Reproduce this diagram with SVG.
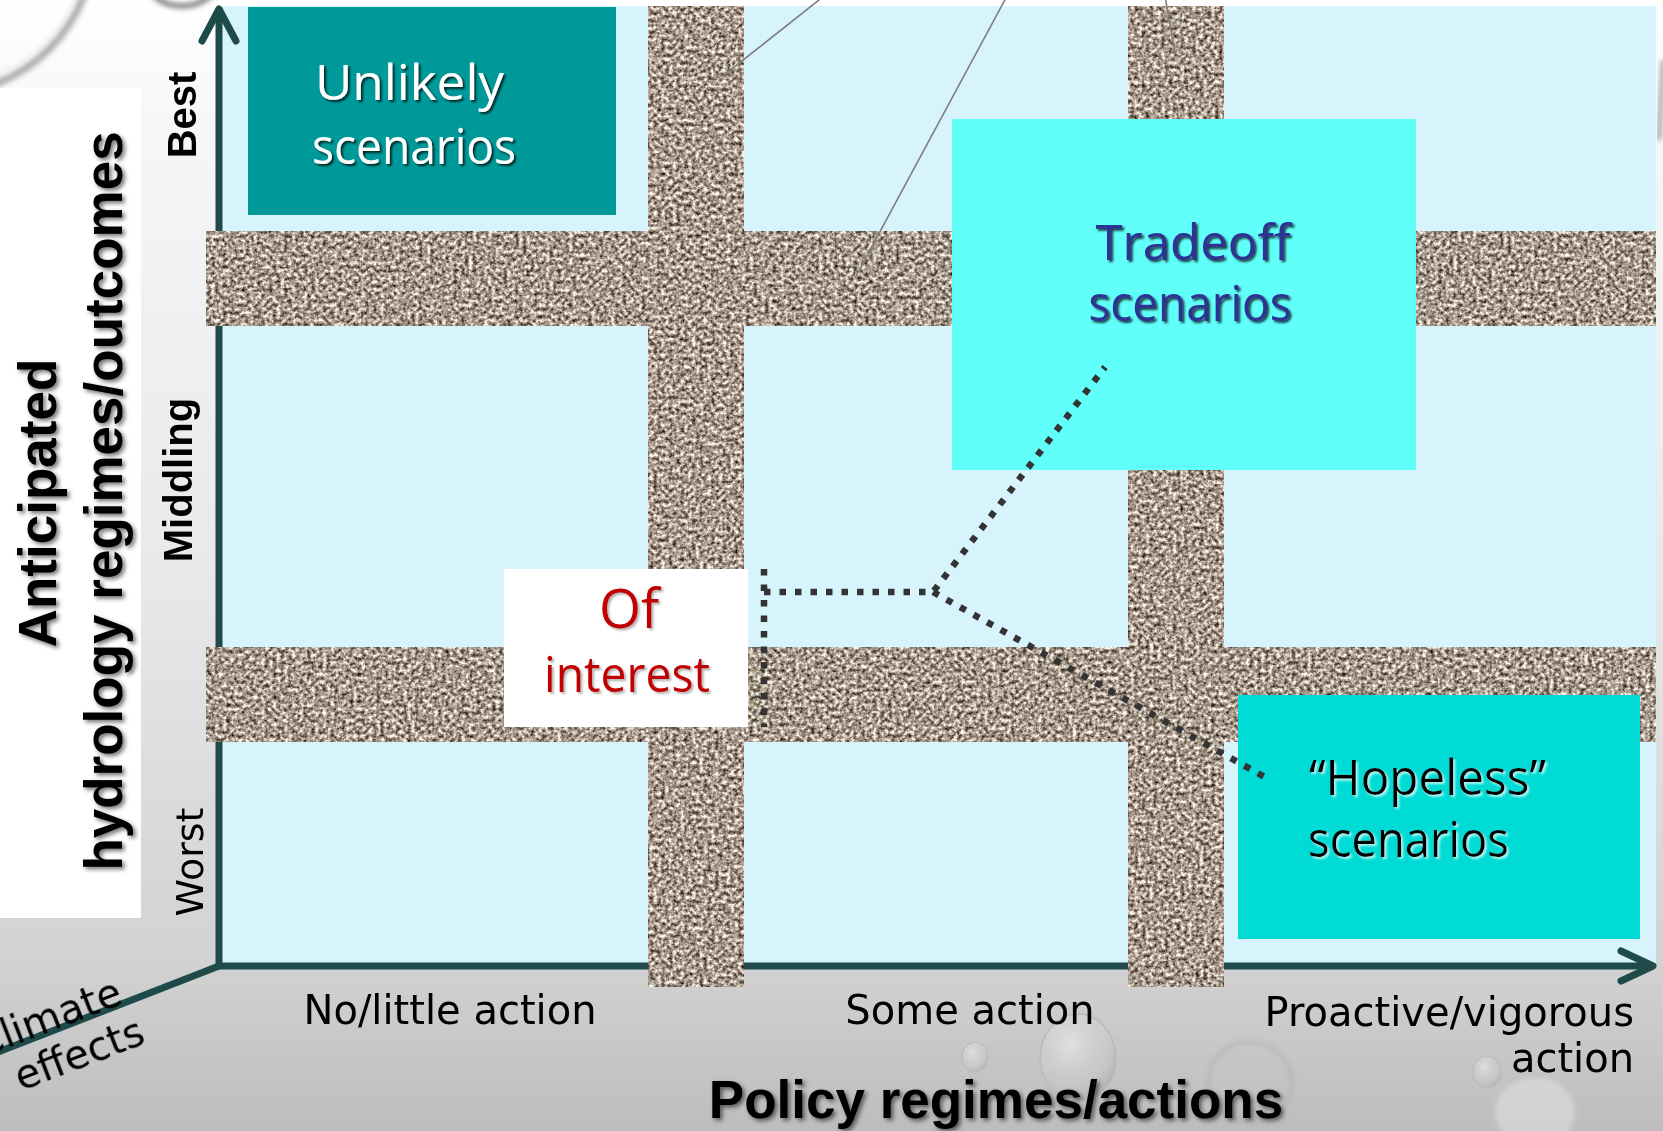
<svg xmlns="http://www.w3.org/2000/svg" width="1663" height="1131" viewBox="0 0 1663 1131">
  <defs>
    <style>
      .title { font-family: "Liberation Sans", Arial, sans-serif; font-weight: 700; font-size: 53px; fill: #000; text-anchor: middle; }
      .lvlB { font-family: "Liberation Sans", Arial, sans-serif; font-weight: 700; font-size: 40px; fill: #000; text-anchor: middle; }
      .lvl { font-family: "DejaVu Sans", sans-serif; font-size: 38px; fill: #000; text-anchor: middle; }
      .cat { font-family: "DejaVu Sans", sans-serif; font-size: 40px; fill: #000; }
      .mid { text-anchor: middle; }
      .end { text-anchor: end; }
      .hand { font-family: "Open Sans", "Noto Sans", sans-serif; font-size: 50px; }
      .dots { fill: none; stroke: #333; stroke-width: 6.5; stroke-dasharray: 6.5 9; }
      .thin { fill: none; stroke: #7f7f7f; stroke-width: 1.6; }
      .axis { fill: none; stroke: #1f4a4a; stroke-width: 7; stroke-linecap: round; stroke-linejoin: round; }
    </style>
    <linearGradient id="bg" x1="0" y1="0" x2="0" y2="1">
      <stop offset="0" stop-color="#ffffff"/>
      <stop offset="0.12" stop-color="#f6f6f6"/>
      <stop offset="0.5" stop-color="#e9e9e9"/>
      <stop offset="0.85" stop-color="#d2d2d2"/>
      <stop offset="1" stop-color="#bdbdbd"/>
    </linearGradient>
    <radialGradient id="drop" cx="0.4" cy="0.35" r="0.65">
      <stop offset="0" stop-color="#ffffff" stop-opacity="0.45"/>
      <stop offset="0.7" stop-color="#dcdcdc" stop-opacity="0.15"/>
      <stop offset="1" stop-color="#9a9a9a" stop-opacity="0.35"/>
    </radialGradient>
    <filter id="soft" x="-50%" y="-50%" width="200%" height="200%">
      <feGaussianBlur stdDeviation="2.5"/>
    </filter>
    <!-- gravel texture for the grid bands -->
    <filter id="gravel" filterUnits="userSpaceOnUse" x="0" y="0" width="1663" height="1131" color-interpolation-filters="sRGB">
      <feTurbulence type="fractalNoise" baseFrequency="0.26" numOctaves="3" seed="11" result="n"/>
      <feGaussianBlur in="n" stdDeviation="0.7" result="nb"/>
      <feColorMatrix in="nb" type="matrix" values="1.45 0 0 0 -0.07  1.45 0 0 0 -0.12  1.45 0 0 0 -0.17  0 0 0 0 1" result="c"/>
      <feComposite in="c" in2="SourceGraphic" operator="in"/>
    </filter>
    <filter id="shTitle" x="-10%" y="-30%" width="120%" height="160%">
      <feDropShadow dx="2.5" dy="2.5" stdDeviation="2.2" flood-color="#000" flood-opacity="0.55"/>
    </filter>
    <filter id="shDark" x="-10%" y="-30%" width="120%" height="160%">
      <feDropShadow dx="2" dy="2" stdDeviation="1" flood-color="#000" flood-opacity="0.75"/>
    </filter>
    <filter id="shGrey" x="-10%" y="-30%" width="120%" height="160%">
      <feDropShadow dx="2" dy="2" stdDeviation="1" flood-color="#555" flood-opacity="0.45"/>
    </filter>
    <filter id="shLight" x="-10%" y="-30%" width="120%" height="160%">
      <feDropShadow dx="2" dy="2" stdDeviation="1" flood-color="#ffffff" flood-opacity="0.7"/>
    </filter>
  </defs>

  <!-- slide background -->
  <rect x="0" y="0" width="1663" height="1131" fill="url(#bg)"/>
  <g id="backdrop">
    <path d="M-60,93 A153,153 0 0 0 93,-60" fill="none" stroke="#b0b0b0" stroke-width="10" filter="url(#soft)"/>
    <path d="M-60,88 A148,148 0 0 0 88,-60" fill="none" stroke="#ffffff" stroke-width="4" filter="url(#soft)"/>
    <ellipse cx="182" cy="-30" rx="40" ry="36" fill="none" stroke="#8a8a8a" stroke-width="6" filter="url(#soft)"/>
    <path d="M1663,60 L1659,140" fill="none" stroke="#9a9a9a" stroke-width="4" filter="url(#soft)"/>
    <ellipse cx="975" cy="1057" rx="13" ry="15" fill="url(#drop)" stroke="#bdbdbd" stroke-width="1.5"/>
    <ellipse cx="1078" cy="1058" rx="38" ry="44" fill="url(#drop)" stroke="#bababa" stroke-width="1.5"/>
    <ellipse cx="1250" cy="1082" rx="42" ry="40" fill="none" stroke="#b0b0b0" stroke-width="2.5" filter="url(#soft)"/>
    <ellipse cx="1487" cy="1072" rx="14" ry="16" fill="url(#drop)" stroke="#bdbdbd" stroke-width="1.5"/>
    <ellipse cx="1535" cy="1112" rx="40" ry="34" fill="#ffffff" opacity="0.3" filter="url(#soft)"/>
  </g>

  <!-- white panel behind the vertical title -->
  <rect x="0" y="88" width="141" height="830" fill="#ffffff"/>

  <!-- plot area -->
  <rect id="plot-area" x="219" y="6" width="1437" height="960" fill="#d7f4fd"/>

  <!-- axes -->
  <g id="axes">
    <path class="axis" d="M219,10 V966 H1652"/>
    <path class="axis" d="M202,41 L219,9 L236,41"/>
    <path class="axis" d="M1621,951 L1653,966 L1621,981"/>
    <path class="axis" d="M219,966 L-12,1056" stroke-linecap="butt"/>
  </g>

  <!-- textured grid bands -->
  <g id="bands" filter="url(#gravel)" fill="#a09286">
    <rect x="206" y="231" width="1450" height="95"/>
    <rect x="206" y="647" width="1450" height="95"/>
    <rect x="648" y="6" width="96" height="981"/>
    <rect x="1128" y="6" width="96" height="981"/>
  </g>

  <!-- thin leader lines from above -->
  <g id="leaders">
    <line class="thin" x1="824" y1="-4" x2="723" y2="76"/>
    <line class="thin" x1="1007" y1="-4" x2="855" y2="278"/>
    <line class="thin" x1="1165" y1="-4" x2="1175" y2="53"/>
  </g>

  <!-- scenario boxes -->
  <g id="unlikely">
    <rect x="248" y="7" width="368" height="208" fill="#009999"/>
    <g class="hand" fill="#ffffff" filter="url(#shDark)">
      <text x="315" y="100" textLength="189" lengthAdjust="spacingAndGlyphs">Unlikely</text>
      <text x="312" y="164" textLength="204" lengthAdjust="spacingAndGlyphs">scenarios</text>
    </g>
  </g>

  <g id="tradeoff">
    <rect x="952" y="119" width="464" height="351" fill="#60fffa"/>
    <g class="hand" fill="#2e3192" text-anchor="middle" filter="url(#shDark)">
      <text x="1193" y="260" textLength="195" lengthAdjust="spacingAndGlyphs">Tradeoff</text>
      <text x="1190" y="321" textLength="203" lengthAdjust="spacingAndGlyphs">scenarios</text>
    </g>
  </g>

  <g id="of-interest">
    <rect x="504" y="569" width="244" height="158" fill="#ffffff"/>
    <g class="hand" fill="#c00000" text-anchor="middle" filter="url(#shGrey)">
      <text x="629" y="628" font-size="54">Of</text>
      <text x="627" y="692" textLength="166" lengthAdjust="spacingAndGlyphs">interest</text>
    </g>
  </g>

  <g id="hopeless">
    <rect x="1238" y="695" width="402" height="244" fill="#00dbd5"/>
    <g class="hand" fill="#000000" filter="url(#shLight)">
      <text x="1309" y="795" textLength="237" lengthAdjust="spacingAndGlyphs">“Hopeless”</text>
      <text x="1308" y="857" textLength="201" lengthAdjust="spacingAndGlyphs">scenarios</text>
    </g>
  </g>

  <!-- dotted connectors -->
  <g id="connectors">
    <path class="dots" d="M764,569 V727"/>
    <path class="dots" d="M764,592 H933 L1105,367"/>
    <path class="dots" d="M933,592 L1270,780"/>
  </g>

  <!-- axis titles -->
  <g id="titles" filter="url(#shTitle)">
    <text class="title" transform="translate(56,503) rotate(-90)">Anticipated</text>
    <text class="title" transform="translate(122,501) rotate(-90)">hydrology regimes/outcomes</text>
    <text class="title" x="996" y="1118">Policy regimes/actions</text>
  </g>

  <!-- outcome levels -->
  <g id="levels">
    <text class="lvlB" transform="translate(196,115) rotate(-90)">Best</text>
    <text class="lvlB" transform="translate(192,480) rotate(-90)">Middling</text>
    <text class="lvl" transform="translate(203,862) rotate(-90)">Worst</text>
  </g>

  <!-- policy categories -->
  <g id="categories">
    <text class="cat mid" x="450" y="1024">No/little action</text>
    <text class="cat mid" x="970" y="1024">Some action</text>
    <text class="cat end" x="1634" y="1026">Proactive/vigorous</text>
    <text class="cat end" x="1634" y="1072">action</text>
    <g transform="translate(140,1010) rotate(-21)">
      <text class="cat end" x="-12" y="-12" font-size="43">Climate</text>
      <text class="cat end" x="-5" y="33">effects</text>
    </g>
  </g>
</svg>
